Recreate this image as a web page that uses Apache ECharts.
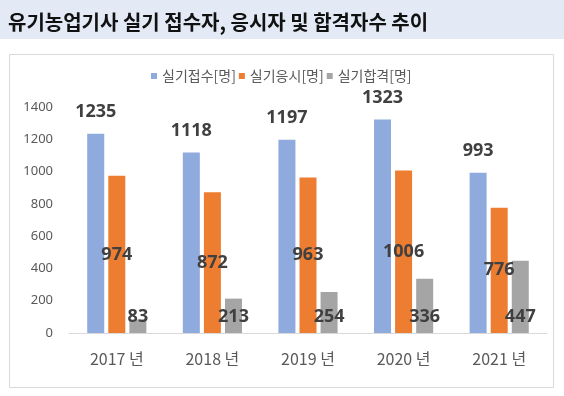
<!DOCTYPE html>
<html><head><meta charset="utf-8">
<script src="https://cdn.jsdelivr.net/npm/echarts@6/dist/echarts.min.js"></script>
<style>html,body{margin:0;padding:0;background:#fff}#c{width:564px;height:396px}</style>
</head><body><div id="c"></div>
<script>
const categories = ['2017 년', '2018 년', '2019 년', '2020 년', '2021 년'];
const applied = [1235, 1118, 1197, 1323, 993];
const tested = [974, 872, 963, 1006, 776];
const passed = [83, 213, 254, 336, 447];
const seriesNames = ['실기접수[명]', '실기응시[명]', '실기합격[명]'];
const titleText = '유기농업기사 실기 접수자, 응시자 및 합격자수 추이';

const chart = echarts.init(document.getElementById('c'));
const lblBase = {show: true, color: '#404040', fontWeight: 'bold', fontSize: 18, fontFamily: 'Noto Sans'};
chart.setOption({
  animation: false,
  graphic: [
    {type: 'rect', shape: {x: 0, y: 0, width: 564, height: 39}, style: {fill: '#e3eaf6'}, z: 0},
    {type: 'text', x: 8, y: 22, style: {text: titleText, font: 'bold 20px "Noto Sans CJK KR"', fill: '#111', verticalAlign: 'middle'}, z: 1},
    {type: 'rect', shape: {x: 9.5, y: 54.5, width: 544, height: 333}, style: {fill: 'none', stroke: '#d9d9d9', lineWidth: 1}, z: 0}
  ],
  legend: {
    top: 64, left: 146,
    itemWidth: 6, itemHeight: 6, itemGap: 3,
    icon: 'rect',
    textStyle: {color: '#595959', fontSize: 14, fontFamily: 'Noto Sans CJK KR', padding: [2, 0, 0, 0]},
    data: seriesNames
  },
  grid: {left: 69, right: 17, top: 107, bottom: 63},
  xAxis: {
    type: 'category', data: categories,
    axisLine: {lineStyle: {color: '#d9d9d9'}},
    axisTick: {show: false},
    axisLabel: {color: '#595959', fontSize: 16, fontFamily: 'Noto Sans CJK KR', margin: 18}
  },
  yAxis: {
    type: 'value', min: 0, max: 1400, interval: 200,
    axisLine: {show: false}, axisTick: {show: false},
    splitLine: {show: false},
    axisLabel: {color: '#595959', fontSize: 13, fontFamily: 'Noto Sans', margin: 16, formatter: v => String(v)}
  },
  series: [
    {name: seriesNames[0], type: 'bar', data: applied, barWidth: 17, barGap: '24%',
     itemStyle: {color: '#8faadc'}, label: Object.assign({position: 'top', distance: 13}, lblBase)},
    {name: seriesNames[1], type: 'bar', data: tested, barWidth: 17, barGap: '24%',
     itemStyle: {color: '#ed7d31'}, label: Object.assign({position: 'inside'}, lblBase)},
    {name: seriesNames[2], type: 'bar', data: passed, barWidth: 17, barGap: '24%',
     itemStyle: {color: '#a5a5a5'}, label: Object.assign({position: 'insideBottom', distance: 7}, lblBase)}
  ]
});
</script></body></html>
